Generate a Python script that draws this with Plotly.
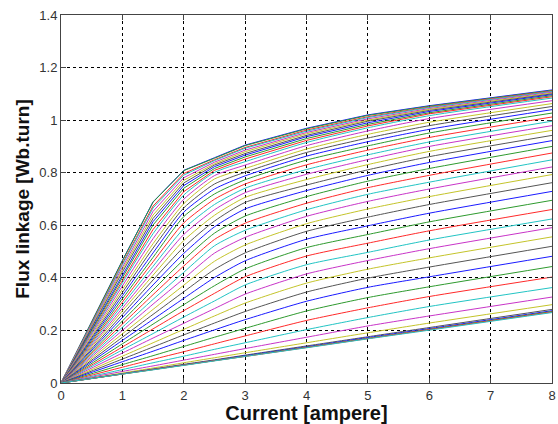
import plotly.graph_objects as go

# Current samples [A]
current = [0, 1, 1.5, 2, 2.5, 3, 4, 5, 6, 8]

# Flux linkage curves [Wb.turn], one row per rotor position (aligned -> unaligned)
flux = [
    [0, .466, .689, .809, .857, .905, .969, 1.020, 1.055, 1.115],
    [0, .465, .688, .808, .855, .903, .967, 1.018, 1.053, 1.113],
    [0, .455, .673, .797, .849, .896, .962, 1.013, 1.050, 1.111],
    [0, .450, .666, .791, .846, .893, .958, 1.010, 1.048, 1.109],
    [0, .440, .653, .781, .840, .886, .953, 1.005, 1.044, 1.106],
    [0, .431, .639, .771, .834, .880, .948, 1.000, 1.041, 1.103],
    [0, .422, .626, .761, .829, .873, .942, .996, 1.037, 1.100],
    [0, .413, .614, .751, .823, .867, .937, .990, 1.033, 1.097],
    [0, .404, .601, .741, .816, .860, .930, .984, 1.028, 1.093],
    [0, .393, .584, .728, .809, .852, .923, .978, 1.024, 1.089],
    [0, .381, .568, .715, .801, .842, .915, .971, 1.017, 1.084],
    [0, .369, .549, .699, .789, .829, .903, .959, 1.006, 1.074],
    [0, .356, .530, .682, .776, .816, .890, .946, .992, 1.063],
    [0, .344, .513, .666, .757, .802, .877, .932, .979, 1.052],
    [0, .332, .495, .650, .738, .788, .863, .918, .965, 1.040],
    [0, .320, .478, .633, .719, .773, .848, .902, .951, 1.027],
    [0, .308, .461, .609, .699, .757, .830, .886, .934, 1.012],
    [0, .297, .444, .587, .679, .741, .812, .868, .917, .996],
    [0, .285, .427, .565, .659, .724, .794, .850, .900, .979],
    [0, .274, .410, .542, .638, .706, .774, .831, .881, .961],
    [0, .261, .392, .517, .616, .687, .753, .811, .861, .942],
    [0, .249, .373, .493, .594, .662, .732, .790, .839, .922],
    [0, .236, .354, .469, .570, .635, .709, .768, .816, .900],
    [0, .224, .336, .445, .546, .608, .684, .743, .790, .875],
    [0, .212, .318, .421, .522, .581, .659, .718, .764, .849],
    [0, .200, .300, .397, .494, .554, .634, .691, .738, .822],
    [0, .187, .280, .372, .463, .525, .606, .662, .709, .793],
    [0, .174, .261, .347, .432, .495, .577, .631, .679, .762],
    [0, .162, .242, .322, .401, .465, .547, .598, .646, .729],
    [0, .149, .224, .298, .370, .434, .515, .565, .613, .695],
    [0, .137, .206, .275, .341, .404, .483, .532, .579, .660],
    [0, .126, .188, .251, .312, .373, .450, .497, .544, .624],
    [0, .114, .171, .227, .283, .338, .415, .466, .511, .591],
    [0, .102, .153, .204, .255, .304, .380, .433, .476, .556],
    [0, .091, .137, .183, .228, .272, .346, .399, .441, .520],
    [0, .081, .121, .162, .202, .241, .311, .364, .404, .482],
    [0, .070, .104, .139, .174, .208, .274, .325, .366, .443],
    [0, .060, .090, .119, .149, .179, .238, .286, .329, .403],
    [0, .051, .077, .102, .128, .153, .203, .249, .291, .363],
    [0, .044, .065, .087, .109, .131, .174, .217, .255, .327],
    [0, .038, .057, .077, .096, .115, .153, .191, .228, .298],
    [0, .035, .053, .071, .088, .106, .141, .176, .211, .280],
    [0, .035, .052, .069, .086, .104, .138, .173, .207, .275],
    [0, .034, .051, .068, .085, .102, .136, .170, .204, .272],
    [0, .034, .051, .068, .085, .101, .135, .169, .203, .270],
    [0, .034, .050, .067, .084, .101, .134, .168, .201, .268],
]

# MATLAB-style colour cycle
line_colors = ["#1a1aff", "#2e9a2e", "#ff2a2a", "#22c4c4", "#c834c8", "#c4c42a", "#555555"]

x_ticks = [0, 1, 2, 3, 4, 5, 6, 7, 8]
y_ticks = [0, 0.2, 0.4, 0.6, 0.8, 1.0, 1.2, 1.4]
x_tick_labels = ["0", "1", "2", "3", "4", "5", "6", "7", "8"]
y_tick_labels = ["0", "0.2", "0.4", "0.6", "0.8", "1", "1.2", "1.4"]

FONT = "Liberation Sans, Arial, sans-serif"

fig = go.Figure()
for i, row in enumerate(flux):
    smooth = i >= 10
    fig.add_trace(go.Scatter(
        x=current, y=row, mode="lines",
        line=dict(color=line_colors[i % len(line_colors)], width=1,
                  shape="spline" if smooth else "linear",
                  smoothing=0.6 if smooth else None),
        showlegend=False, hoverinfo="skip",
    ))

axis_common = dict(
    showline=True, linecolor="#444444", linewidth=1, mirror="ticks",
    ticks="inside", ticklen=5, tickcolor="#444444",
    showgrid=True, gridcolor="#000000", gridwidth=1, griddash="3px,3px",
    zeroline=False, automargin=False,
    tickfont=dict(family=FONT, size=13, color="#333333"),
)

fig.update_layout(
    width=558, height=424,
    margin=dict(l=61, r=6, t=15, b=41),
    paper_bgcolor="white", plot_bgcolor="white",
    xaxis=dict(range=[0, 8], tickvals=x_ticks, ticktext=x_tick_labels,
               ticklabeloverflow="allow",
               title=dict(text="<b>Current [ampere]</b>", standoff=1,
                          font=dict(family=FONT, size=20, color="#111111")),
               **axis_common),
    yaxis=dict(range=[0, 1.4], tickvals=y_ticks, ticktext=y_tick_labels,
               title=dict(text="<b>Flux linkage [Wb.turn]</b>", standoff=4,
                          font=dict(family=FONT, size=19, color="#111111")),
               **axis_common),
)

fig.write_html("out.html")
